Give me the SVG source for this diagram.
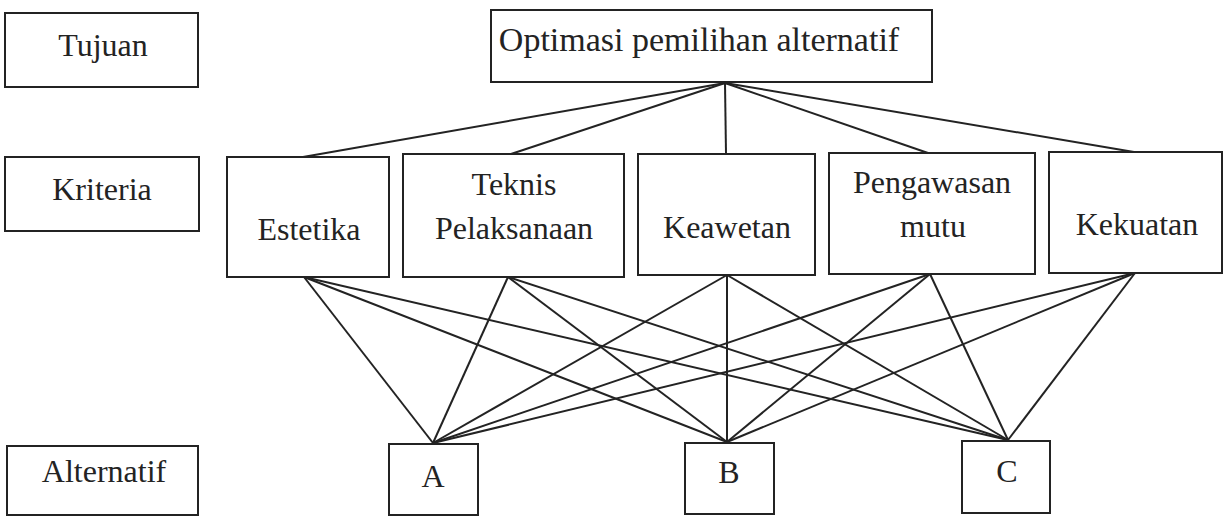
<svg xmlns="http://www.w3.org/2000/svg" width="1224" height="516" viewBox="0 0 1224 516">
<style>
rect{fill:#fff;stroke:#232323;stroke-width:2}
text{fill:#232323;text-anchor:middle}
#connectors line{stroke:#232323;stroke-width:2}
</style>
<rect x="0" y="0" width="1224" height="516" style="fill:#fff;stroke:none"/>
<g id="connectors">
<line x1="725" y1="83" x2="303" y2="157"/>
<line x1="725" y1="83" x2="511" y2="154"/>
<line x1="725" y1="83" x2="726" y2="154"/>
<line x1="725" y1="83" x2="928" y2="153"/>
<line x1="725" y1="83" x2="1134" y2="152"/>
<line x1="304" y1="277" x2="433" y2="443"/>
<line x1="304" y1="277" x2="727" y2="442"/>
<line x1="304" y1="277" x2="1008" y2="440"/>
<line x1="508" y1="277" x2="433" y2="443"/>
<line x1="508" y1="277" x2="727" y2="442"/>
<line x1="508" y1="277" x2="1008" y2="440"/>
<line x1="727" y1="275" x2="433" y2="443"/>
<line x1="727" y1="275" x2="727" y2="442"/>
<line x1="727" y1="275" x2="1008" y2="440"/>
<line x1="930" y1="274" x2="433" y2="443"/>
<line x1="930" y1="274" x2="727" y2="442"/>
<line x1="930" y1="274" x2="1008" y2="440"/>
<line x1="1135" y1="273" x2="433" y2="443"/>
<line x1="1135" y1="273" x2="727" y2="442"/>
<line x1="1135" y1="273" x2="1008" y2="440"/>
</g>
<g font-family="Liberation Serif" font-size="32">
<g id="tujuan"><rect x="5" y="13" width="193" height="74"/><text x="103" y="56">Tujuan</text></g>
<g id="kriteria"><rect x="5" y="157" width="194" height="74"/><text x="102" y="200">Kriteria</text></g>
<g id="alternatif"><rect x="7" y="446" width="191" height="69"/><text x="104" y="482">Alternatif</text></g>
<g id="goal"><rect x="491" y="10" width="441" height="72"/><text x="699" y="51" font-size="34">Optimasi pemilihan alternatif</text></g>
<g id="estetika"><rect x="227" y="157" width="162" height="120"/><text x="309" y="240">Estetika</text></g>
<g id="teknis"><rect x="403" y="154" width="221" height="123"/><text x="514" y="195">Teknis</text><text x="514" y="239">Pelaksanaan</text></g>
<g id="keawetan"><rect x="638" y="154" width="177" height="121"/><text x="727" y="238">Keawetan</text></g>
<g id="pengawasan"><rect x="829" y="153" width="206" height="121"/><text x="932" y="193">Pengawasan</text><text x="933" y="237">mutu</text></g>
<g id="kekuatan"><rect x="1049" y="152" width="173" height="121"/><text x="1137" y="235">Kekuatan</text></g>
<g id="alt-a"><rect x="389" y="444" width="89" height="71"/><text x="433" y="487">A</text></g>
<g id="alt-b"><rect x="685" y="443" width="89" height="71"/><text x="729" y="483">B</text></g>
<g id="alt-c"><rect x="962" y="441" width="88" height="72"/><text x="1007" y="482">C</text></g>
</g>
</svg>
